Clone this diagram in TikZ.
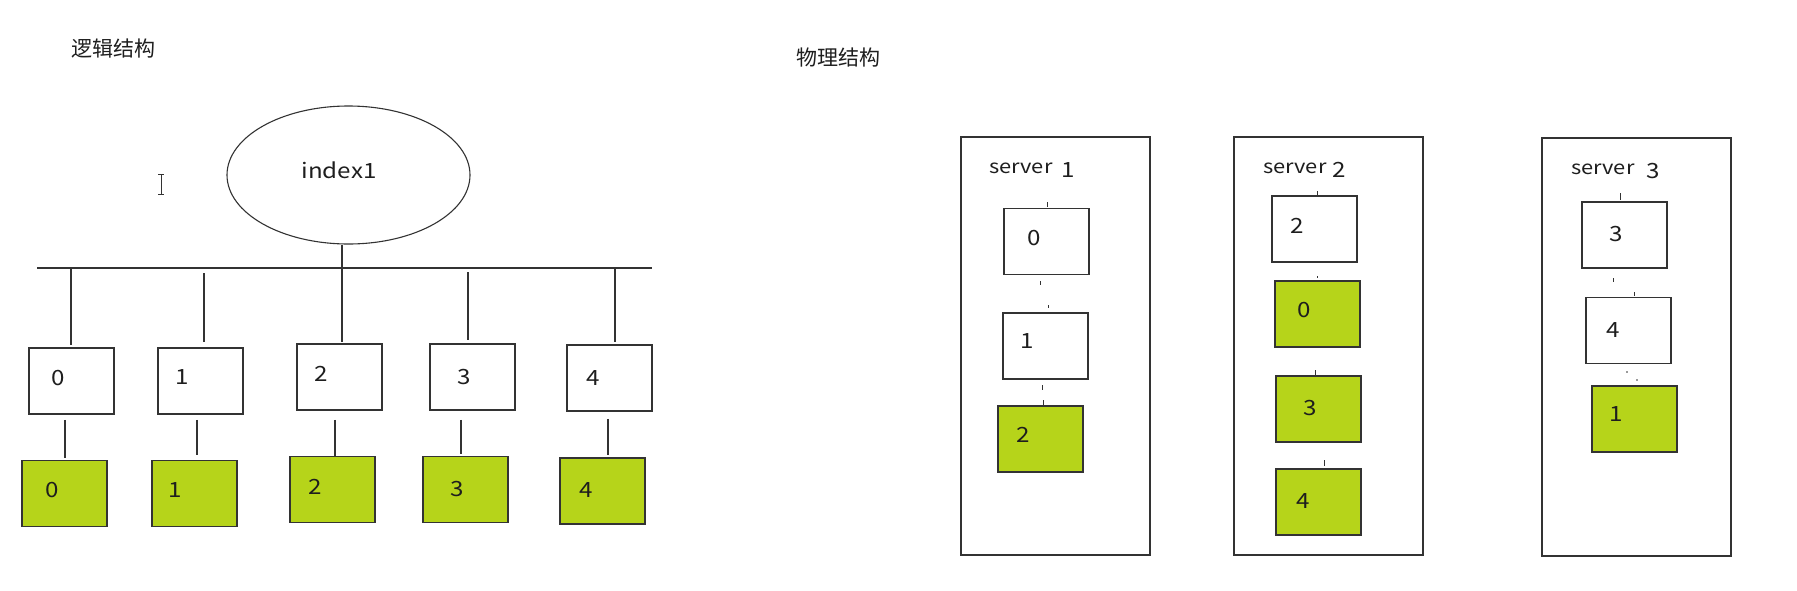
\documentclass[tikz,border=0pt]{standalone}
\usepackage{fontspec}
\setmainfont{Noto Sans CJK SC}[FakeStretch=1.15]
\newfontfamily\cjk{Noto Sans CJK SC}
\usetikzlibrary{shapes.geometric}
\definecolor{ln}{HTML}{333333}
\definecolor{gr}{RGB}{182,212,26}
\definecolor{tx}{HTML}{1E1E1E}
\begin{document}
\begin{tikzpicture}[x=1pt,y=-1pt,
  wbox/.style={draw=ln,line width=1.5pt,fill=white,minimum width=85pt,minimum height=66pt,inner sep=0pt},
  gbox/.style={wbox,fill=gr},
  num/.style={font=\fontsize{21}{21}\selectfont,text=tx,inner sep=0pt},
  lbl/.style={font=\fontsize{21}{21}\selectfont,text=tx,inner sep=0pt},
  ttl/.style={font=\cjk\fontsize{21}{21}\selectfont,text=tx,inner sep=0pt},
  srvl/.style={font=\fontsize{19}{19}\selectfont,text=tx,inner sep=0pt},
  srvn/.style={font=\fontsize{21}{21}\selectfont,text=tx,inner sep=0pt},
  srv/.style={draw=ln,line width=1.4pt,minimum width=189pt,minimum height=418pt,inner sep=0pt},
  conn/.style={draw=ln,line width=1.3pt},
  tick/.style={draw=ln,line width=1pt}]
\fill[white] (0,0) rectangle (1797,590);
\useasboundingbox (0,0) rectangle (1797,590);

% titles
\node[ttl] (t1) at (113,49) {逻辑结构};
\node[ttl] (t2) at (838,58) {物理结构};

% text cursor
\draw[ln,line width=1pt] (161,174) -- (161,194) (158,174) -- (164,174) (158,194) -- (164,194);

% logical structure
\node[draw=ln,line width=1.1pt,ellipse,minimum width=243pt,minimum height=138pt,inner sep=0pt] (idx) at (348.5,175) {};
\node[lbl] (idxt) at (339,170) {index1};
\coordinate (busL) at (37,268);
\coordinate (busR) at (652,268);
\draw[conn,line width=1.5pt] (busL) -- (busR);
\draw[conn] ([xshift=-6.5pt]idx.south) -- ([xshift=-6.5pt]idx.south |- busL);

\node[wbox] (w0) at (71.5,381) {};
\node[wbox] (w1) at (200.5,381) {};
\node[wbox] (w2) at (339.5,377) {};
\node[wbox] (w3) at (472.5,377) {};
\node[wbox] (w4) at (609.5,378) {};
\node[num] (w0t) at (58,378) {0};
\node[num] (w1t) at (182,377) {1};
\node[num] (w2t) at (321,374) {2};
\node[num] (w3t) at (464,377) {3};
\node[num] (w4t) at (593,378) {4};

\node[gbox] (g0) at (64.5,493.5) {};
\node[gbox] (g1) at (194.5,493.5) {};
\node[gbox] (g2) at (332.5,489.5) {};
\node[gbox] (g3) at (465.5,489.5) {};
\node[gbox] (g4) at (602.5,491) {};
\node[num] (g0t) at (52,490) {0};
\node[num] (g1t) at (175,490) {1};
\node[num] (g2t) at (315,487) {2};
\node[num] (g3t) at (457,489) {3};
\node[num] (g4t) at (586,490) {4};

% drops from bus
\draw[conn,shorten >=2pt] ([xshift=-0.5pt]w0.north |- busL) -- ([xshift=-0.5pt]w0.north);
\draw[conn,shorten <=5pt,shorten >=5pt] ([xshift=3.5pt]w1.north |- busL) -- ([xshift=3.5pt]w1.north);
\draw[conn,shorten >=1pt] ([xshift=2.5pt]w2.north |- busL) -- ([xshift=2.5pt]w2.north);
\draw[conn,shorten <=4pt,shorten >=3pt] ([xshift=-4.5pt]w3.north |- busL) -- ([xshift=-4.5pt]w3.north);
\draw[conn,shorten >=2pt] ([xshift=5.5pt]w4.north |- busL) -- ([xshift=5.5pt]w4.north);

% replica links
\draw[conn,shorten <=5pt,shorten >=2pt] ([xshift=-6.5pt]w0.south) -- ([xshift=-6.5pt]w0.south |- g0.north);
\draw[conn,shorten <=5pt,shorten >=5pt] ([xshift=-3.5pt]w1.south) -- ([xshift=-3.5pt]w1.south |- g1.north);
\draw[conn,shorten <=9pt] ([xshift=-4.5pt]w2.south) -- ([xshift=-4.5pt]w2.south |- g2.north);
\draw[conn,shorten <=9pt,shorten >=2pt] ([xshift=-11.5pt]w3.south) -- ([xshift=-11.5pt]w3.south |- g3.north);
\draw[conn,shorten <=7pt,shorten >=2pt] ([xshift=-1.5pt]w4.south) -- ([xshift=-1.5pt]w4.south |- g4.north);

% physical structure
\node[srv] (s1) at (1055.5,346) {};
\node[srv] (s2) at (1328.5,346) {};
\node[srv] (s3) at (1636.5,347) {};
\node[srvl,anchor=base west] (s1l) at (989,173) {server};
\node[srvn,anchor=base] (s1n) at (1068,177) {1};
\node[srvl,anchor=base west] (s2l) at (1263,173) {server};
\node[srvn,anchor=base] (s2n) at (1339,177) {2};
\node[srvl,anchor=base west] (s3l) at (1571,174) {server};
\node[srvn,anchor=base] (s3n) at (1653,178) {3};

% server 1
\node[wbox] (p10) at (1046.5,241.5) {};
\node[wbox] (p11) at (1045.5,346) {};
\node[gbox] (p12) at (1040.5,439) {};
\node[num] (p10t) at (1034,238) {0};
\node[num] (p11t) at (1027,341) {1};
\node[num] (p12t) at (1023,435) {2};
% server 2
\node[wbox] (p22) at (1314.5,229) {};
\node[gbox] (p20) at (1317.5,314) {};
\node[gbox] (p23) at (1318.5,409) {};
\node[gbox] (p24) at (1318.5,502) {};
\node[num] (p22t) at (1297,226) {2};
\node[num] (p20t) at (1304,310) {0};
\node[num] (p23t) at (1310,408) {3};
\node[num] (p24t) at (1303,501) {4};
% server 3
\node[wbox] (p33) at (1624.5,235) {};
\node[wbox] (p34) at (1628.5,330.5) {};
\node[gbox] (p31) at (1634.5,419) {};
\node[num] (p33t) at (1616,234) {3};
\node[num] (p34t) at (1613,330) {4};
\node[num] (p31t) at (1616,414) {1};

% small tick remnants
\draw[tick] (1047,202) -- (1047,207) (1040,281) -- (1040,285) (1048,305) -- (1048,308)
  (1042,385) -- (1042,390) (1043,400) -- (1043,405);
\draw[tick] (1317,191) -- (1317,196) (1317,276) -- (1317,278) (1315,370) -- (1315,375)
  (1324,460) -- (1324,466);
\draw[tick] (1620,193) -- (1620,200) (1613,278) -- (1613,282) (1634,292) -- (1634,296);
\fill[ln] (1627,372) circle (0.8) (1637,380) circle (0.8);
\end{tikzpicture}
\end{document}
